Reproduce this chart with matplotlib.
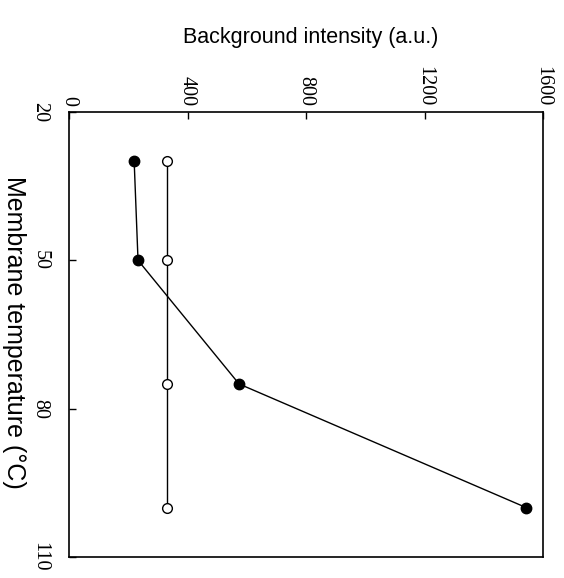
import matplotlib
matplotlib.use('Agg')
from matplotlib import pyplot

# membrane temperature (deg C) and background intensity (a.u.)
temperature = [30, 50, 75, 100]
intensityFilled = [220, 233, 574, 1543]
intensityOpen = [332, 332, 332, 332]

intensityTicks = [0, 400, 800, 1200, 1600]
temperatureTicks = [20, 50, 80, 110]

figure = pyplot.figure(figsize=(5.64, 5.78), dpi=100)
axes = figure.add_axes([69/564, 1 - 557/578, (543 - 69)/564, (557 - 112)/578])

# chart is drawn turned on its side: intensity across the top, temperature downwards
axes.plot(intensityOpen, temperature, color='black', linewidth=1.0,
          marker='o', markersize=7, markerfacecolor='white',
          markeredgecolor='black', markeredgewidth=1.0)
axes.plot(intensityFilled, temperature, color='black', linewidth=1.0,
          marker='o', markersize=7.5, markerfacecolor='black',
          markeredgecolor='black')

axes.set_xlim(0, 1600)
axes.set_ylim(110, 20)
axes.set_xticks(intensityTicks)
axes.set_yticks(temperatureTicks)

axes.xaxis.tick_top()
axes.tick_params(axis='x', direction='in', length=5, width=1, pad=4,
                 labelrotation=270, labelsize=14.5)
axes.tick_params(axis='y', direction='in', length=5, width=1, pad=14,
                 labelrotation=270, labelsize=14.5)
for label in axes.get_xticklabels() + axes.get_yticklabels():
    label.set_fontfamily('Liberation Serif')
for label in axes.get_yticklabels():
    label.set_verticalalignment('center')

for spine in axes.spines.values():
    spine.set_linewidth(1.2)

figure.text(311/564, 1 - 38/578, 'Background intensity (a.u.)',
            ha='center', va='center', fontsize=15.5, family='Liberation Sans')
figure.text(14/564, 1 - 332/578, 'Membrane temperature (°C)',
            ha='center', va='center', rotation=270, fontsize=18,
            family='Liberation Sans')

figure.savefig('out.png', dpi=100)
